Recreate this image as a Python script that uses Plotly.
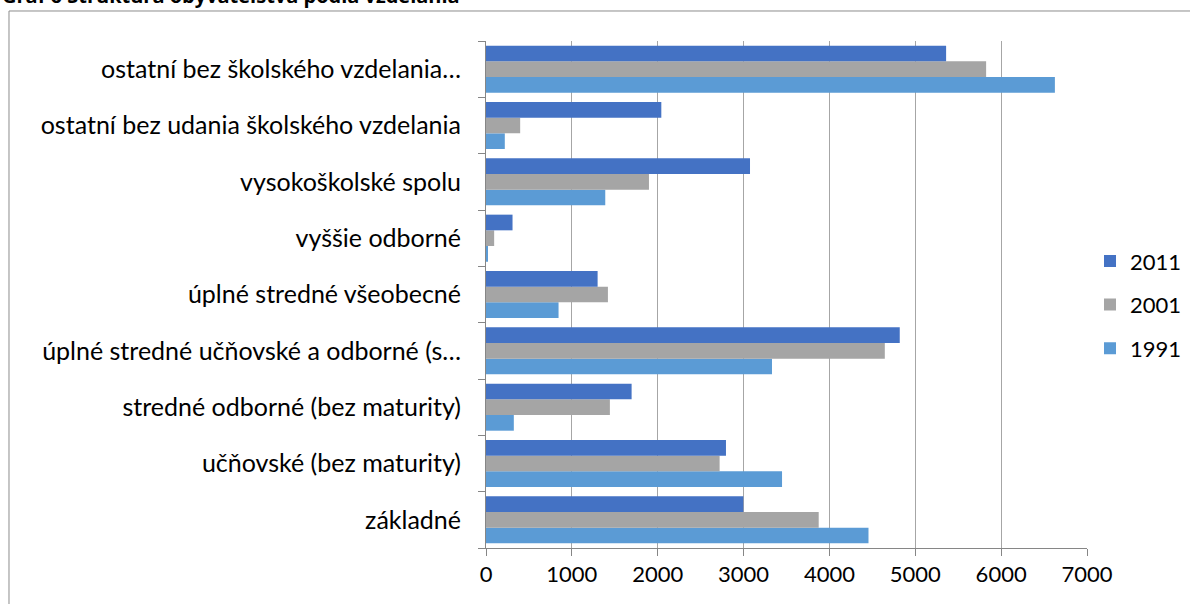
import plotly.graph_objects as go

categories = [
    "základné",
    "učňovské (bez maturity)",
    "stredné odborné (bez maturity)",
    "úplné stredné učňovské a odborné (s…",
    "úplné stredné všeobecné",
    "vyššie odborné",
    "vysokoškolské spolu",
    "ostatní bez udania školského vzdelania",
    "ostatní bez školského vzdelania…",
]

y2011 = [2997, 2795, 1696, 4819, 1300, 309, 3075, 2042, 5359]
y2001 = [3875, 2721, 1443, 4645, 1420, 95, 1898, 398, 5825]
y1991 = [4455, 3448, 324, 3331, 845, 17, 1389, 219, 6626]

x_ticks = [0, 1000, 2000, 3000, 4000, 5000, 6000, 7000]

fig = go.Figure()
# plotly stacks grouped hbars bottom-up, so 1991 goes first
for name, vals, color, rank in [("1991", y1991, "#5B9BD5", 3),
                                ("2001", y2001, "#A5A5A5", 2),
                                ("2011", y2011, "#4472C4", 1)]:
    fig.add_trace(go.Bar(
        y=categories,
        x=vals,
        name=name,
        orientation="h",
        marker=dict(color=color, line=dict(width=0)),
        legendgroup=name,
        legendrank=rank,
    ))

font_name = "Lato, 'Noto Sans', sans-serif"

fig.update_layout(
    width=1190,
    height=604,
    barmode="group",
    bargap=0.165,
    bargroupgap=0,
    plot_bgcolor="white",
    paper_bgcolor="white",
    margin=dict(l=486, r=103, t=41, b=56, autoexpand=False),
    font=dict(family=font_name, size=22, color="black"),
    xaxis=dict(
        range=[0, 7000],
        tickvals=x_ticks,
        showgrid=True,
        gridcolor="#A6A6A6",
        gridwidth=1,
        zeroline=False,
        showline=True,
        linecolor="#868686",
        linewidth=1,
        ticks="outside",
        ticklen=7,
        tickcolor="#868686",
        automargin=False,
    ),
    yaxis=dict(
        showgrid=False,
        showline=True,
        linecolor="#868686",
        linewidth=1,
        ticks="outside",
        tickson="boundaries",
        ticklen=7,
        tickcolor="#868686",
        ticklabelstandoff=19,
        tickfont=dict(size=25),
        automargin=False,
    ),
    legend=dict(
        x=1.005,
        xanchor="left",
        y=0.48,
        yanchor="middle",
        traceorder="grouped",
        tracegroupgap=12,
        font=dict(size=22),
    ),
    shapes=[dict(
        type="rect",
        xref="paper", yref="paper",
        x0=-0.7937, x1=1.18, y0=-0.12, y1=1.0592,
        line=dict(color="#8C8C8C", width=1),
        fillcolor="rgba(0,0,0,0)",
        layer="below",
    )],
    annotations=[dict(
        text="<b>Graf 6 Štruktúra obyvateľstva podľa vzdelania</b>",
        xref="paper", yref="paper",
        x=-0.8087, y=1.0888,
        xanchor="left", yanchor="middle",
        showarrow=False,
        font=dict(family="'Open Sans', sans-serif", size=20, color="black"),
    )],
)

# page body has an 8px default margin; drop it so the figure sits at 0,0
fig.write_html("out.html", config={"displayModeBar": False},
               post_script="document.body.style.margin='0';")
